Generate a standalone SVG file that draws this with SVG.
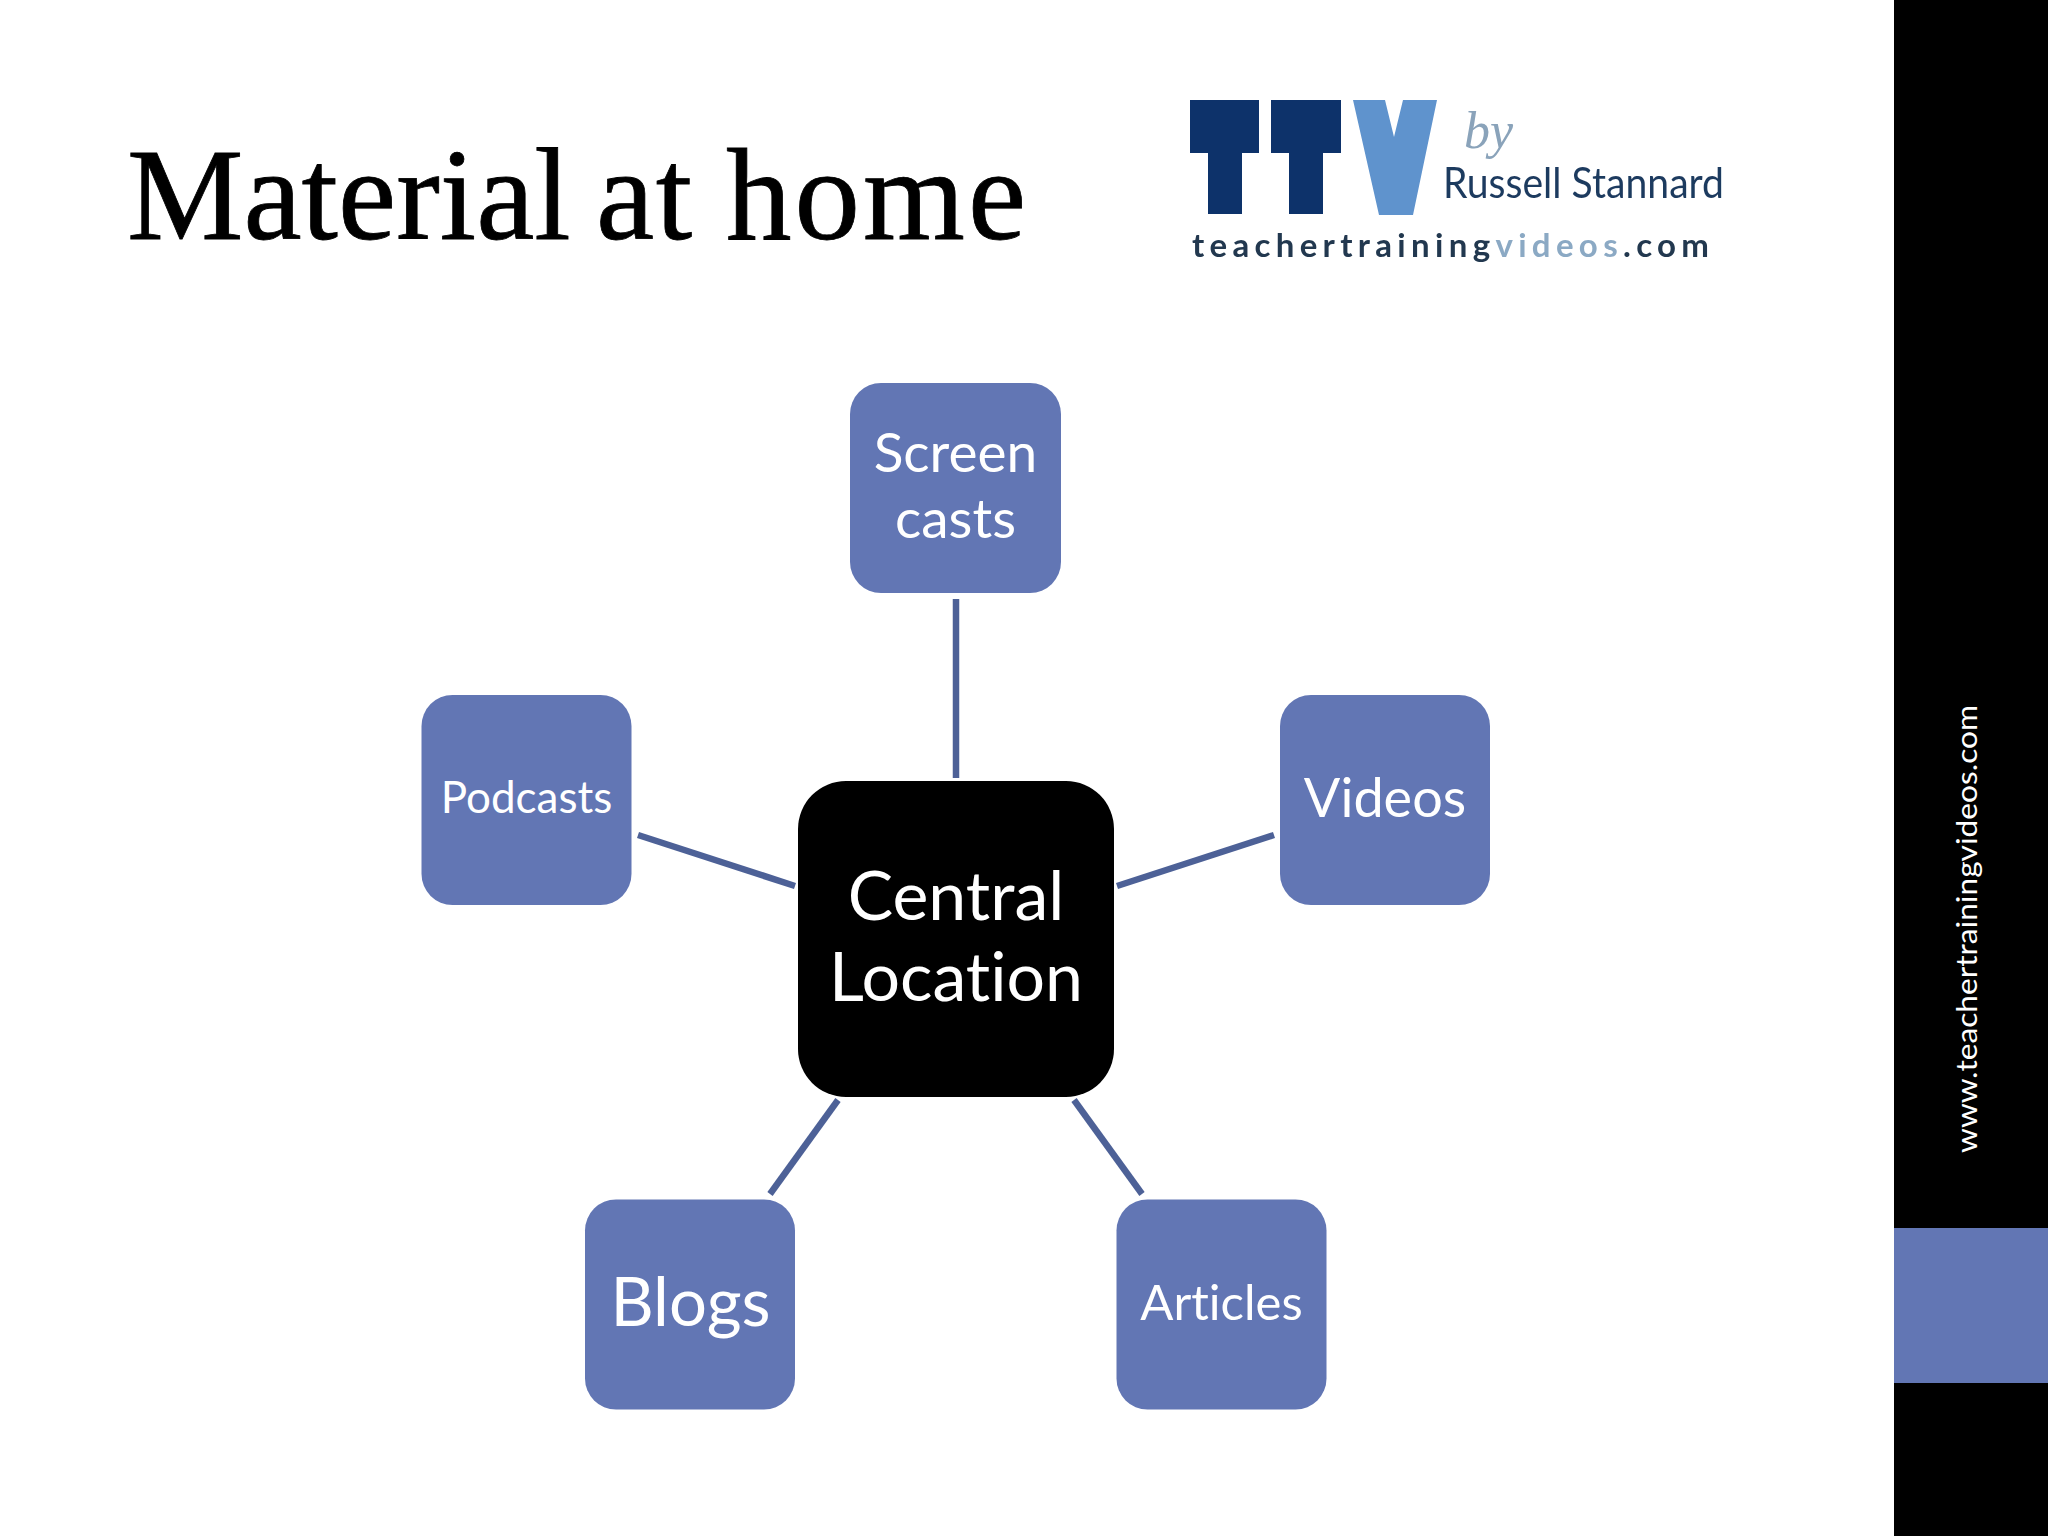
<svg xmlns="http://www.w3.org/2000/svg" width="2048" height="1536" viewBox="0 0 2048 1536">
<defs>
<style>
text{font-variant-ligatures:none}
.node{fill:#6276b4}
.lbl{font-family:"Lato","Open Sans","Liberation Sans",sans-serif;fill:#fff;text-anchor:middle}
.conn{stroke:#4d6197;stroke-width:6.500;fill:none}
.logo{font-family:"Lato","Liberation Sans",sans-serif}
</style>
<filter id="soft" x="-5%" y="-5%" width="110%" height="110%"><feGaussianBlur stdDeviation="0.7"/></filter>
</defs>
<rect width="2048" height="1536" fill="#fff"/>
<g id="sidebar">
<rect x="1894" y="0" width="154" height="1536" fill="#000"/>
<rect x="1894" y="1228" width="154" height="155" fill="#6276b4"/>
<text transform="translate(1977 1153) rotate(-90)" textLength="448" lengthAdjust="spacingAndGlyphs" font-family="Lato,'Open Sans',sans-serif" font-size="28" fill="#fff">www.teachertrainingvideos.com</text>
</g>
<text id="title" y="239" font-family="'Liberation Serif',serif" font-size="131" fill="#000" stroke="#000" stroke-width="0.800"><tspan x="127">Material</tspan> <tspan x="596" letter-spacing="1.500">at</tspan> <tspan x="726" letter-spacing="3">home</tspan></text>
<g id="logo" filter="url(#soft)">
<polygon fill="#08306b" points="1190,100 1259,100 1259,153 1242,153 1242,214 1208,214 1208,153 1190,153"/>
<polygon fill="#08306b" points="1271,100 1341,100 1341,153 1323,153 1323,214 1289,214 1289,153 1271,153"/>
<polygon fill="#5f93cd" points="1353,100 1385,100 1394,137 1403,100 1437,100 1413,215 1379,215"/>
<text x="1464" y="148" font-family="'Liberation Serif',serif" font-style="italic" font-size="52" fill="#8aa3ba">by</text>
<text class="logo" x="1443" y="198" textLength="281" lengthAdjust="spacingAndGlyphs" font-size="42" fill="#1f3a5f">Russell Stannard</text>
<text class="logo" x="1192" y="257" textLength="517" font-size="33" font-weight="700" fill="#22384f">teachertraining<tspan fill="#8ba9c4">videos</tspan>.com</text>
</g>
<g id="connectors">
<line class="conn" x1="956" y1="599" x2="956" y2="778"/>
<line class="conn" x1="1274" y1="835" x2="1117" y2="886"/>
<line class="conn" x1="638" y1="835" x2="795" y2="886"/>
<line class="conn" x1="838" y1="1100" x2="770" y2="1194"/>
<line class="conn" x1="1074" y1="1100" x2="1142" y2="1194"/>
</g>
<g id="central"><rect x="798" y="781" width="316" height="316" rx="48" fill="#000"/>
<text class="lbl" font-size="68" x="956" y="920">Central</text><text class="lbl" font-size="68" x="956" y="1001">Location</text></g>
<g id="screencasts"><rect class="node" x="850" y="383" width="211" height="210" rx="31"/>
<text class="lbl" font-size="55" x="955.500" y="472">Screen</text><text class="lbl" font-size="55" x="955.500" y="538">casts</text></g>
<g id="podcasts"><rect class="node" x="421.500" y="695" width="210" height="210" rx="31"/>
<text class="lbl" font-size="44" x="526.500" y="813">Podcasts</text></g>
<g id="videos"><rect class="node" x="1280" y="695" width="210" height="210" rx="31"/>
<text class="lbl" font-size="54" x="1385" y="817">Videos</text></g>
<g id="blogs"><rect class="node" x="585" y="1199.500" width="210" height="210" rx="31"/>
<text class="lbl" font-size="67" x="690.500" y="1326">Blogs</text></g>
<g id="articles"><rect class="node" x="1116.500" y="1199.500" width="210" height="210" rx="31"/>
<text class="lbl" font-size="49" x="1221.500" y="1320">Articles</text></g>
</svg>
